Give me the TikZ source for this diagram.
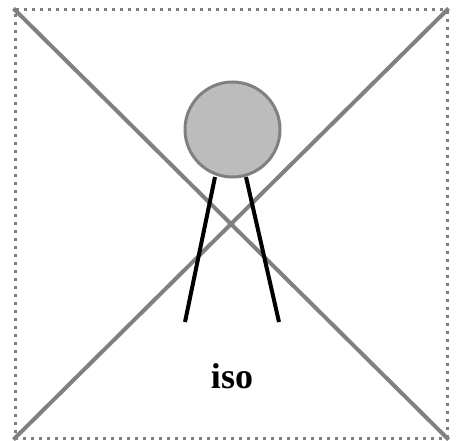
\documentclass[tikz,border=0pt]{standalone}
\usepackage{fontspec}
\setmainfont{Liberation Serif}
\begin{document}
\begin{tikzpicture}[
	x=1pt, y=-1pt,
	frame/.style    = {rectangle, draw=gray, line width=3pt, dash pattern=on 3pt off 5pt,
		minimum width=432pt, minimum height=428pt, inner sep=0pt},
	diag/.style     = {draw=gray, line width=4pt},
	head/.style     = {circle, draw=gray, line width=3pt, fill=lightgray!95!gray,
		minimum size=95pt, inner sep=0pt},
	leg/.style      = {draw=black, line width=4pt},
	caption/.style  = {font=\fontsize{36}{40}\selectfont\bfseries, inner sep=0pt}
	]
	\useasboundingbox (0,0) rectangle (460,441);
	
	% ===================== Frame and cross =====================
	\node[frame] (box) at (231,224) {};
	\draw[diag] (box.north west) -- (box.south east);
	\draw[diag] (box.north east) -- (box.south west);
	
	% ===================== Figure =====================
	\node[head] (head) at (232.5,129.5) {};
	\coordinate (lefttop)  at (215,177);
	\coordinate (leftfoot) at (185,322);
	\coordinate (righttop) at (246,177);
	\coordinate (rightfoot) at (279,322);
	\draw[leg] (lefttop) -- (leftfoot);
	\draw[leg] (righttop) -- (rightfoot);
	
	\node[caption] (label) at (232,376) {iso};
	
\end{tikzpicture}
\end{document}
